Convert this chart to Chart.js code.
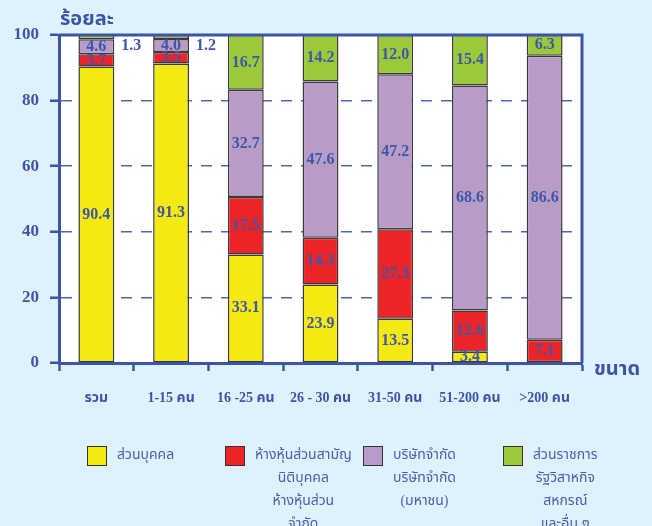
<!DOCTYPE html>
<html>
<head>
<meta charset="utf-8">
<script src="https://cdn.jsdelivr.net/npm/chart.js@4"></script>
<style>
  body { margin: 0; background: #dff1fc; }
  #wrap { position: relative; width: 652px; height: 526px; }
  #legend { position: absolute; left: 0; top: 0; width: 652px; height: 526px; pointer-events: none; }
  .item { position: absolute; top: 446px; display: flex; align-items: flex-start; }
  .box { width: 18px; height: 18px; border: 1.5px solid #333; box-sizing: content-box; }
  .txt { margin-left: 10px; margin-top: -3px; text-align: center; color: #4a5fb0;
         font: 14px/23px "Liberation Serif", "Noto Sans Thai", "Tahoma", serif; }
</style>
</head>
<body>
<div id="wrap">
  <canvas id="sizeChart" width="652" height="526"></canvas>
  <div id="legend"></div>
</div>
<script>
// categories (business size)
var sizes = ['รวม', '1-15 คน', '16 -25 คน', '26 - 30 คน', '31-50 คน', '51-200 คน', '>200 คน'];

// percentage shares per legal form
var personal = [90.4, 91.3, 33.1, 23.9, 13.5, 3.4, 0];
var partnership = [3.7, 3.5, 17.5, 14.3, 27.3, 12.6, 7.1];
var company = [4.6, 4.0, 32.7, 47.6, 47.2, 68.6, 86.6];
var government = [1.3, 1.2, 16.7, 14.2, 12.0, 15.4, 6.3];

var yTicks = [0, 20, 40, 60, 80, 100];

var legendNames = [
  ['ส่วนบุคคล'],
  ['ห้างหุ้นส่วนสามัญ', 'นิติบุคคล', 'ห้างหุ้นส่วน', 'จำกัด'],
  ['บริษัทจำกัด', 'บริษัทจำกัด', '(มหาชน)'],
  ['ส่วนราชการ', 'รัฐวิสาหกิจ', 'สหกรณ์', 'และอื่น ๆ']
];

var blue = '#3d55a6';

// white plot area + top/right frame
var frame = {
  id: 'frame',
  beforeDraw: function(chart) {
    var a = chart.chartArea, ctx = chart.ctx;
    ctx.save();
    ctx.fillStyle = '#ffffff';
    ctx.fillRect(a.left, a.top, a.right - a.left, a.bottom - a.top);
    ctx.restore();
  },
  afterDraw: function(chart) {
    var a = chart.chartArea, ctx = chart.ctx;
    ctx.save();
    ctx.strokeStyle = blue;
    ctx.lineWidth = 3;
    ctx.beginPath();
    ctx.moveTo(a.left, a.top);
    ctx.lineTo(a.right, a.top);
    ctx.lineTo(a.right, a.bottom);
    ctx.stroke();
    ctx.font = 'bold 20px "Liberation Serif", "Noto Sans Thai", serif';
    ctx.fillStyle = blue;
    ctx.textBaseline = 'middle';
    ctx.textAlign = 'left';
    ctx.fillText('ร้อยละ', a.left + 1, a.top - 15);
    ctx.fillText('ขนาด', a.right + 12, a.bottom + 7);
    ctx.restore();
  }
};

// numbers inside the segments
var valueLabels = {
  id: 'valueLabels',
  afterDatasetsDraw: function(chart) {
    var ctx = chart.ctx;
    ctx.save();
    ctx.font = 'bold 16px "Liberation Serif", serif';
    ctx.fillStyle = '#3f56a8';
    ctx.textAlign = 'center';
    ctx.textBaseline = 'middle';
    chart.data.datasets.forEach(function(ds, i) {
      chart.getDatasetMeta(i).data.forEach(function(bar, j) {
        var v = ds.data[j];
        if (!v) return;
        if (v < 2) ctx.fillText(v.toFixed(1), bar.x + 35, bar.y + 11);
        else ctx.fillText(v.toFixed(1), bar.x, (bar.y + bar.base) / 2);
      });
    });
    ctx.restore();
  }
};

var colors = ['#f4ea12', '#ec2428', '#b89cc8', '#9cc93c'];
var series = [personal, partnership, company, government];

var ctx1 = document.getElementById('sizeChart').getContext('2d');
var sizeChart = new Chart(ctx1, {
  type: 'bar',
  data: {
    labels: sizes,
    datasets: series.map(function(s, i) {
      return {
        label: legendNames[i].join(' '),
        data: s,
        backgroundColor: colors[i],
        borderColor: '#3a3a3a',
        borderWidth: 1.5,
        borderSkipped: false,
        barPercentage: 0.48,
        categoryPercentage: 1
      };
    })
  },
  options: {
    responsive: false,
    animation: false,
    devicePixelRatio: 1,
    layout: { padding: { top: 35, right: 70, left: 0, bottom: 0 } },
    plugins: { legend: { display: false }, tooltip: { enabled: false } },
    scales: {
      x: {
        stacked: true,
        afterFit: function(s) { s.height = 163; },
        grid: { drawOnChartArea: false, drawTicks: true, tickLength: 8, tickColor: blue, tickWidth: 2.5, offset: true },
        border: { color: blue, width: 3 },
        ticks: { color: blue, padding: 19, font: { family: '"Liberation Serif", "Noto Sans Thai", serif', size: 14, weight: 'bold' } }
      },
      y: {
        stacked: true,
        min: 0,
        max: 100,
        afterFit: function(s) { s.width = 59; },
        afterBuildTicks: function(s) { s.ticks = yTicks.map(function(v) { return { value: v }; }); },
        grid: {
          color: function(c) { return (c.tick && (c.tick.value === 0 || c.tick.value === 100)) ? 'rgba(0,0,0,0)' : '#5068b2'; },
          lineWidth: 1.5,
          tickLength: 9,
          tickColor: blue,
          tickWidth: 2.5,
          tickBorderDash: []
        },
        border: { color: blue, width: 3, dash: [11, 9] },
        ticks: { color: blue, padding: 11, font: { family: '"Liberation Serif", serif', size: 17, weight: 'bold' } }
      }
    }
  },
  plugins: [frame, valueLabels]
});

// legend built from the dataset colours and names
var legend = document.getElementById('legend');
var lefts = [87, 225, 363, 503];
legendNames.forEach(function(lines, i) {
  var item = document.createElement('div');
  item.className = 'item';
  item.style.left = lefts[i] + 'px';
  var box = document.createElement('div');
  box.className = 'box';
  box.style.background = colors[i];
  var txt = document.createElement('div');
  txt.className = 'txt';
  txt.innerHTML = lines.join('<br>');
  item.appendChild(box);
  item.appendChild(txt);
  legend.appendChild(item);
});
</script>
</body>
</html>
